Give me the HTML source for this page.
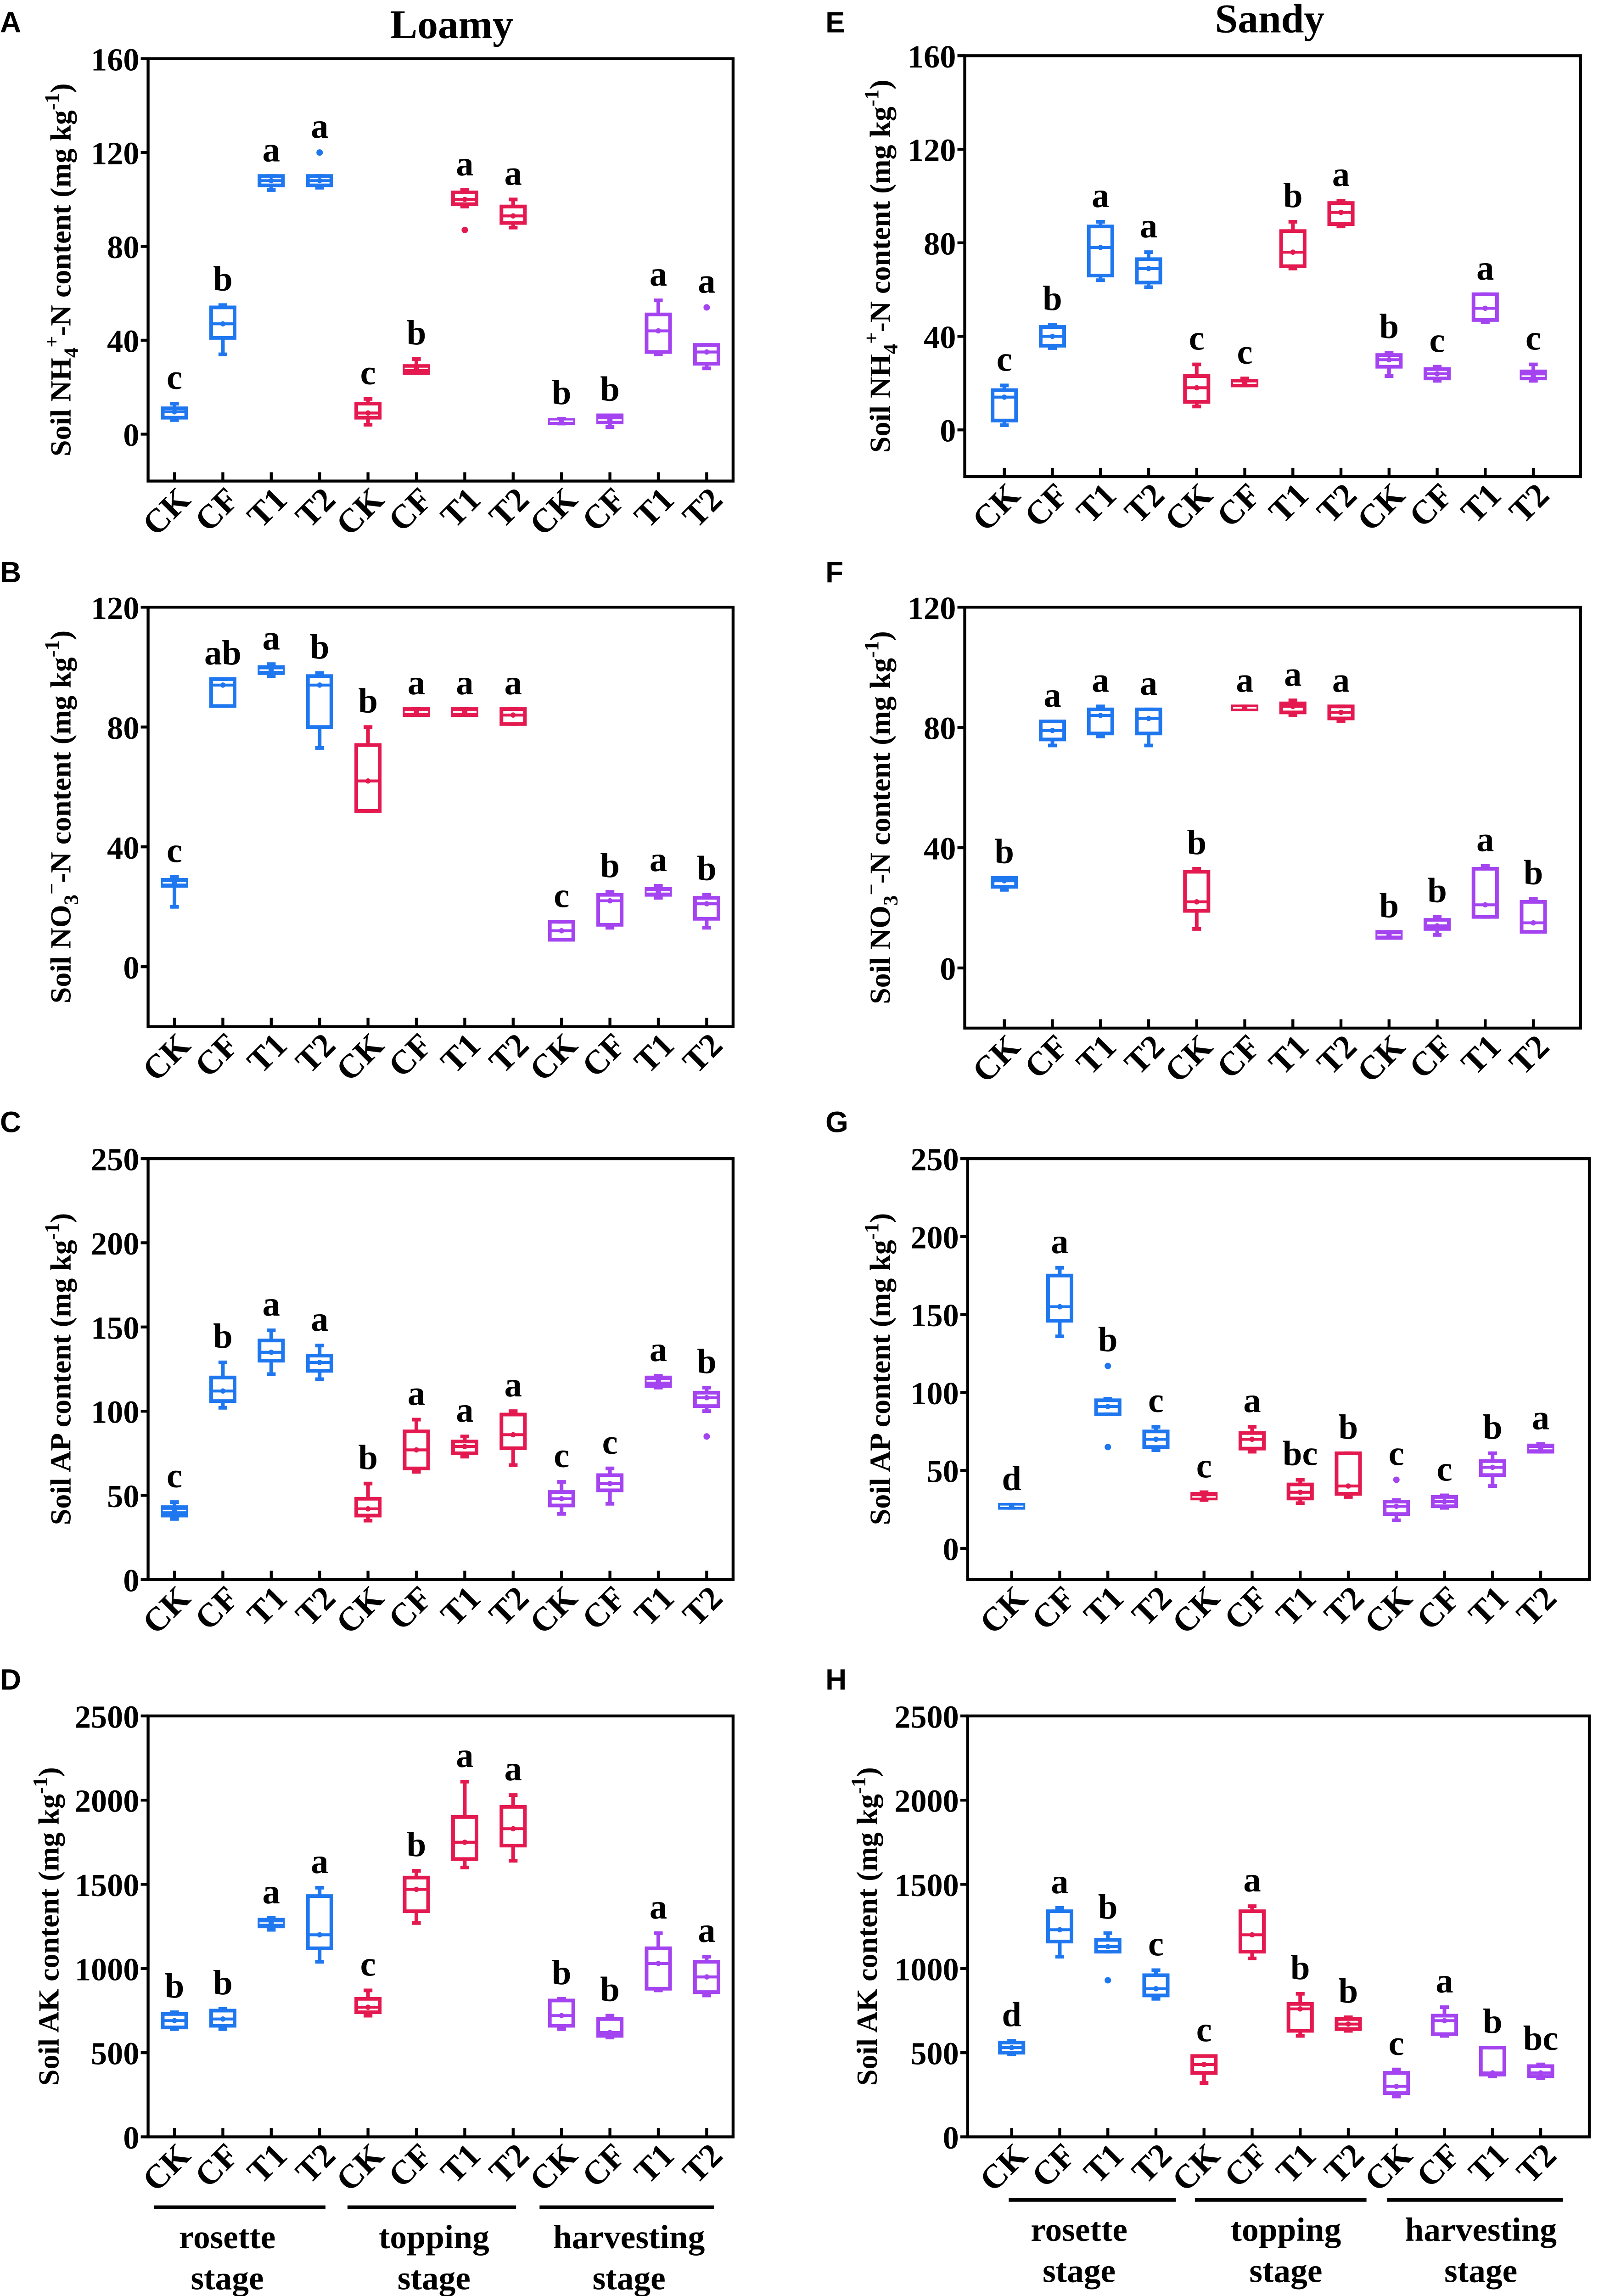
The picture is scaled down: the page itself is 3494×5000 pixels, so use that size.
<!DOCTYPE html>
<html><head><meta charset="utf-8"><style>
html,body{margin:0;padding:0;background:#fff;}
svg{display:block;}
text{font-family:"Liberation Serif",serif;font-weight:bold;fill:#000;}
.pl{font-family:"Liberation Sans",sans-serif;}
</style></head><body>
<svg id="fig" xmlns="http://www.w3.org/2000/svg" width="3494" height="5000" viewBox="0 0 1094 1565.5" preserveAspectRatio="none">
<rect x="0" y="0" width="1094" height="1565.5" fill="#fff"/>
<text x="308" y="26" font-size="28" text-anchor="middle">Loamy</text>
<text x="866" y="22" font-size="28" text-anchor="middle">Sandy</text>
</svg>
<script>
const cats = ["CK","CF","T1","T2","CK","CF","T1","T2","CK","CF","T1","T2"];
const colors = ["#1f77f0","#1f77f0","#1f77f0","#1f77f0","#e3194f","#e3194f","#e3194f","#e3194f","#a443f0","#a443f0","#a443f0","#a443f0"];
// Panel A: NH4 loamy
const A_lo=[6,34,104,105,4,26,97,88,4.5,3,34,28];
const A_q1=[7,41,106,106,7,26,98,90,5,5,35,30];
const A_med=[9.5,47,108,108,9,28,100,93,5.5,6,44,35];
const A_q3=[11,54,110,110,13,29,103,97,6,8,51,38];
const A_hi=[13,55,110,110,15,32,104,100,6.5,8,57,38];
const A_out=[[],[],[],[120],[],[],[87],[],[],[],[],[54]];
const A_let=["c","b","a","a","c","b","a","a","b","b","a","a"];
// Panel B: NO3 loamy
const B_lo=[20,87,97,73,52,84,84,81,9,13,23,13];
const B_q1=[27,87,98,80,52,84,84,81,9,14,24,16];
const B_med=[28,94,99,94,62,85,85,84,12,22,25,21];
const B_q3=[29,96,100,97,74,86,86,86,15,24,26,23];
const B_hi=[30,96,101,98,80,86,86,86,15,25,27,24];
const B_out=[[],[],[],[],[],[],[],[],[],[],[],[]];
const B_let=["c","ab","a","b","b","a","a","a","c","b","a","b"];
// Panel C: AP loamy
const C_lo=[36,102,122,119,35,64,73,68,39,45,114,100];
const C_q1=[38,106,130,124,38,66,75,78,44,53,115,103];
const C_med=[41,112,135,129,42,77,79,86,48,57,118,108];
const C_q3=[43,120,142,133,48,88,82,98,52,62,120,111];
const C_hi=[46,129,148,139,57,95,85,100,58,66,121,114];
const C_out=[[],[],[],[],[],[],[],[],[],[],[],[85]];
const C_let=["c","b","a","a","b","a","a","a","c","c","a","b"];
// Panel D: AK loamy
const D_lo=[640,640,1230,1040,720,1270,1600,1640,640,590,870,840];
const D_q1=[650,660,1250,1120,740,1340,1650,1730,660,600,880,860];
const D_med=[690,700,1270,1200,770,1470,1750,1830,720,620,1030,950];
const D_q3=[730,750,1290,1430,820,1540,1900,1960,810,700,1120,1040];
const D_hi=[740,760,1300,1480,870,1580,2110,2030,820,720,1210,1070];
const D_out=[[],[],[],[],[],[],[],[],[],[],[],[]];
const D_let=["b","b","a","a","c","b","a","a","b","b","a","a"];
// Panel E: NH4 sandy
const E_lo=[2,35,64,61,10,19,69,87,23,21,46,21];
const E_q1=[4,36,66,63,12,19,70,88,27,22,47,22];
const E_med=[14,40,78,69,18,20,76,93,30,24,52,23];
const E_q3=[17,44,87,73,23,21,85,97,32,26,58,25];
const E_hi=[19,45,89,76,28,22,89,98,33,27,58,28];
const E_out=[[],[],[],[],[],[],[],[],[],[],[],[]];
const E_let=["c","b","a","a","c","c","b","a","b","c","a","c"];
// Panel F: NO3 sandy
const F_lo=[26,74,77,74,13,86,84,82,10,11,17,12];
const F_q1=[27,76,78,78,19,86,85,83,10,13,17,12];
const F_med=[29,79,84,83,22,86.5,87,85,11,14,21,15];
const F_q3=[30,82,86,86,32,87,88,87,12,16,33,22];
const F_hi=[30,82,87,86,33,87,89,87,12,17,34,23];
const F_out=[[],[],[],[],[],[],[],[],[],[],[],[]];
const F_let=["b","a","a","a","b","a","a","a","b","b","a","b"];
// Panel G: AP sandy
const G_lo=[26,136,86,63,31,62,29,33,18,26,40,62];
const G_q1=[26,146,86,65,32,64,32,35,22,27,47,62];
const G_med=[27,155,91,70,33,70,36,40,27,30,52,64];
const G_q3=[28,175,95,75,35,74,41,61,30,33,56,66];
const G_hi=[28,180,96,78,36,78,44,61,31,34,61,67];
const G_out=[[],[],[65,117],[],[],[],[],[],[44],[],[],[]];
const G_let=["d","a","b","c","c","a","bc","b","c","c","b","a"];
// Panel H: AK sandy
const H_lo=[490,1070,1100,820,320,1060,600,630,240,600,360,350];
const H_q1=[500,1160,1100,840,380,1100,630,640,260,610,370,360];
const H_med=[530,1230,1130,880,430,1200,760,670,300,690,380,380];
const H_q3=[560,1340,1170,960,480,1340,790,700,380,720,530,420];
const H_hi=[570,1360,1210,990,480,1370,850,710,400,770,530,430];
const H_out=[[],[],[930],[],[],[],[],[],[],[],[],[]];
const H_let=["d","a","b","c","c","a","b","b","c","a","b","bc"];

const svg=document.getElementById('fig');
const NS="http://www.w3.org/2000/svg";
function mk(tag,attrs,parent){const e=document.createElementNS(NS,tag);for(const k in attrs)e.setAttribute(k,attrs[k]);(parent||svg).appendChild(e);return e;}

const panels=[
 {id:"A",lo:A_lo,q1:A_q1,med:A_med,q3:A_q3,hi:A_hi,out:A_out,let:A_let,x0:101,x1:500,cx0:119,dx:33,yTop:40,yBot:328,vTop:160,vBot:-20,ticks:[0,40,80,120,160],title:"nh4",tx:48,lx:0,ly:22},
 {id:"B",lo:B_lo,q1:B_q1,med:B_med,q3:B_q3,hi:B_hi,out:B_out,let:B_let,x0:101,x1:500,cx0:119,dx:33,yTop:414,yBot:700,vTop:120,vBot:-20,ticks:[0,40,80,120],title:"no3",tx:48,lx:0,ly:397},
 {id:"C",lo:C_lo,q1:C_q1,med:C_med,q3:C_q3,hi:C_hi,out:C_out,let:C_let,x0:101,x1:500,cx0:119,dx:33,yTop:790,yBot:1077,vTop:250,vBot:0,ticks:[0,50,100,150,200,250],title:"Soil AP content (mg kg",tx:48,lx:0,ly:772},
 {id:"D",lo:D_lo,q1:D_q1,med:D_med,q3:D_q3,hi:D_hi,out:D_out,let:D_let,x0:101,x1:500,cx0:119,dx:33,yTop:1170,yBot:1457,vTop:2500,vBot:0,ticks:[0,500,1000,1500,2000,2500],title:"Soil AK content (mg kg",tx:40,lx:0,ly:1152},
 {id:"E",lo:E_lo,q1:E_q1,med:E_med,q3:E_q3,hi:E_hi,out:E_out,let:E_let,x0:658,x1:1078,cx0:685,dx:32.8,yTop:38,yBot:325,vTop:160,vBot:-20,ticks:[0,40,80,120,160],title:"nh4",tx:607,lx:563,ly:22},
 {id:"F",lo:F_lo,q1:F_q1,med:F_med,q3:F_q3,hi:F_hi,out:F_out,let:F_let,x0:658,x1:1078,cx0:685,dx:32.8,yTop:414,yBot:701,vTop:120,vBot:-20,ticks:[0,40,80,120],title:"no3",tx:607,lx:563,ly:397},
 {id:"G",lo:G_lo,q1:G_q1,med:G_med,q3:G_q3,hi:G_hi,out:G_out,let:G_let,x0:660,x1:1084,cx0:690,dx:32.8,yTop:790,yBot:1077,vTop:250,vBot:-20,ticks:[0,50,100,150,200,250],title:"Soil AP content (mg kg",tx:607,lx:563,ly:772},
 {id:"H",lo:H_lo,q1:H_q1,med:H_med,q3:H_q3,hi:H_hi,out:H_out,let:H_let,x0:660,x1:1084,cx0:690,dx:32.8,yTop:1170,yBot:1457,vTop:2500,vBot:0,ticks:[0,500,1000,1500,2000,2500],title:"Soil AK content (mg kg",tx:598,lx:563,ly:1152}
];

panels.forEach(p=>{
 const g=mk('g',{});
 
 
 const ys=v=>p.yBot-(v-p.vBot)*(p.yBot-p.yTop)/(p.vTop-p.vBot);
 const xs=i=>p.cx0+i*p.dx;
 const lab=mk('text',{x:p.lx,y:p.ly,'font-size':20,class:'pl'},g);
 lab.textContent=p.id;
 
 
 const fr=mk('rect',{x:p.x0,y:p.yTop,width:p.x1-p.x0,height:p.yBot-p.yTop,fill:'none',stroke:'#000','stroke-width':2},g);
 
 
 p.ticks.forEach(t=>{
  const y=ys(t);
  mk('line',{x1:p.x0-5,x2:p.x0,y1:y,y2:y,stroke:'#000','stroke-width':2},g);
  const tl=mk('text',{x:p.x0-6,y:y+8,'font-size':22,'text-anchor':'end'},g);
  tl.textContent=t;
  
  
 });
 const tx=p.tx;
 const ty=(p.yTop+p.yBot)/2;
 const tt=mk('text',{x:tx,y:ty,'font-size':20,'text-anchor':'middle',transform:`rotate(-90 ${tx} ${ty})`},g);
 
 
 if(p.title==="nh4"){tt.innerHTML='Soil NH<tspan font-size="14" dy="5">4</tspan><tspan font-size="14" dy="-13">+</tspan><tspan dy="8">-N content (mg kg</tspan><tspan font-size="14" dy="-8">-1</tspan><tspan dy="8">)</tspan>';}
 else if(p.title==="no3"){tt.innerHTML='Soil NO<tspan font-size="14" dy="5">3</tspan><tspan font-size="14" dy="-13">−</tspan><tspan dy="8">-N content (mg kg</tspan><tspan font-size="14" dy="-8">-1</tspan><tspan dy="8">)</tspan>';}
 else {tt.innerHTML=p.title+'<tspan font-size="14" dy="-8">-1</tspan><tspan dy="8">)</tspan>';}
 cats.forEach((c,i)=>{
  const x=xs(i);
  mk('line',{x1:x,x2:x,y1:p.yBot,y2:p.yBot-6,stroke:'#000','stroke-width':2},g);
  const xl=mk('text',{x:x+12,y:p.yBot+14,'font-size':23,'text-anchor':'end',transform:`rotate(-45 ${x+12} ${p.yBot+14})`},g);
  xl.textContent=c;
  
  
  const col=colors[i];
  const bg=mk('g',{stroke:col,'stroke-width':2.5,fill:'none'},g);
  
  
  const w=8;
  mk('line',{x1:x,x2:x,y1:ys(p.hi[i]),y2:ys(p.q3[i])},bg);
  mk('line',{x1:x,x2:x,y1:ys(p.q1[i]),y2:ys(p.lo[i])},bg);
  mk('line',{x1:x-3,x2:x+3,y1:ys(p.hi[i]),y2:ys(p.hi[i])},bg);
  mk('line',{x1:x-3,x2:x+3,y1:ys(p.lo[i]),y2:ys(p.lo[i])},bg);
  const h=Math.max(ys(p.q1[i])-ys(p.q3[i]),2);
  mk('rect',{x:x-w,y:ys(p.q3[i]),width:2*w,height:h,fill:h<6?col:'none'},bg);
  mk('line',{x1:x-w,x2:x+w,y1:ys(p.med[i]),y2:ys(p.med[i]),stroke:h<6?'#fff':col,'stroke-width':h<6?1:2},bg);
  mk('circle',{cx:x,cy:ys(p.med[i]),r:1.8,fill:col,stroke:'none'},bg);
  let top=p.hi[i];
  p.out[i].forEach(o=>{mk('circle',{cx:x,cy:ys(o),r:2.2,fill:col,stroke:'none'},bg); if(o>top)top=o;});
  const lt=mk('text',{x:x,y:ys(top)-10,'font-size':24,'text-anchor':'middle'},g);
  lt.textContent=p.let[i];
  
  
 });
});
const stages=[
 {y:1505,segs:[[105,222],[237,352],[368,487]],cx:[155,296,429]},
 {y:1500,segs:[[688,802],[815,932],[946,1066]],cx:[736,877,1010]}
];
const sn=["rosette","topping","harvesting"];
stages.forEach(s=>{
 s.segs.forEach((sg,j)=>{
  const ln=mk('line',{x1:sg[0],x2:sg[1],y1:s.y,y2:s.y,stroke:'#000','stroke-width':2.5});
  
  
  const t1=mk('text',{x:s.cx[j],y:s.y+28,'font-size':23,'text-anchor':'middle'});
  t1.textContent=sn[j];
  
  
  const t2=mk('text',{x:s.cx[j],y:s.y+56,'font-size':23,'text-anchor':'middle'});
  t2.textContent="stage";
  
  
 });
});
</script>
</body></html>
